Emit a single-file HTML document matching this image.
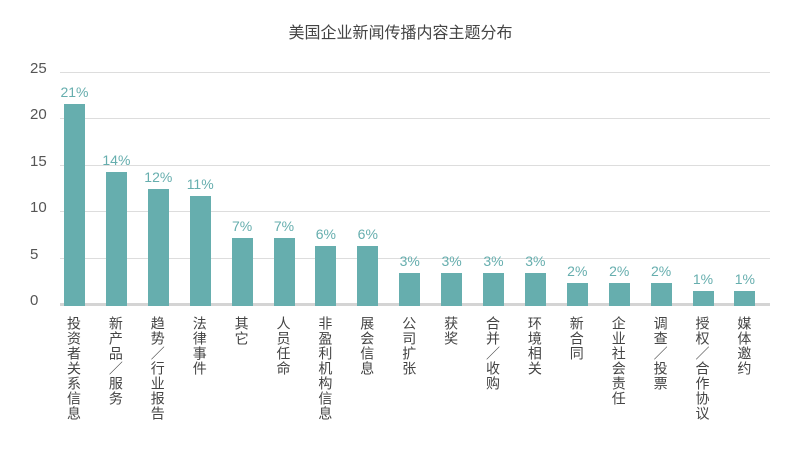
<!DOCTYPE html><html><head><meta charset="utf-8"><style>
body{margin:0;width:801px;height:465px;background:#fff;position:relative;overflow:hidden;font-family:"Liberation Sans","Noto Sans CJK SC",sans-serif}
.t{position:absolute;top:19px;left:0;width:801px;text-align:center;font-size:16px;color:#444}
.g{position:absolute;left:60px;width:710px;height:1px;background:#ddd}
.yl{position:absolute;left:30px;width:22px;text-align:left;font-size:15px;color:#555}
.b{position:absolute;width:21px;background:#66aeae}
.p{position:absolute;width:60px;text-align:center;font-size:14px;color:#66aeae}
.x{position:absolute;top:316px;writing-mode:vertical-rl;font-size:14px;color:#444;line-height:16px;letter-spacing:1px}
</style></h><body>
<div class="t">美国企业新闻传播内容主题分布</div>
<div id="c"></div>
<script>
var c=document.getElementById('c'),h='';
for(var i=0;i<=5;i++){var y=304-i*46.5;h+='<div class="g" style="top:'+Math.round(y)+'px"></div><div class="yl" style="top:'+Math.round(y-12)+'px">'+(i*5)+'</div>';}
h+='<div style="position:absolute;left:60px;width:710px;top:303px;height:3px;background:#d4d4d4"></div>';
var tops=[104,172,189,196,238,238,246,246,273,273,273,273,283,283,283,291,291];
var pc=['21%','14%','12%','11%','7%','7%','6%','6%','3%','3%','3%','3%','2%','2%','2%','1%','1%'];
var lb=['投资者关系信息','新产品／服务','趋势／行业报告','法律事件','其它','人员任命','非盈利机构信息','展会信息','公司扩张','获奖','合并／收购','环境相关','新合同','企业社会责任','调查／投票','授权／合作协议','媒体邀约'];
for(var i=0;i<17;i++){var x=64+i*41.9;
h+='<div class="b" style="left:'+x+'px;top:'+tops[i]+'px;height:'+(306-tops[i])+'px"></div>';
h+='<div class="p" style="left:'+(x-19.5)+'px;top:'+(tops[i]-20)+'px">'+pc[i]+'</div>';
h+='<div class="x" style="left:'+(x+2)+'px">'+lb[i]+'</div>';}
c.innerHTML=h;
</script>
</body></html>
